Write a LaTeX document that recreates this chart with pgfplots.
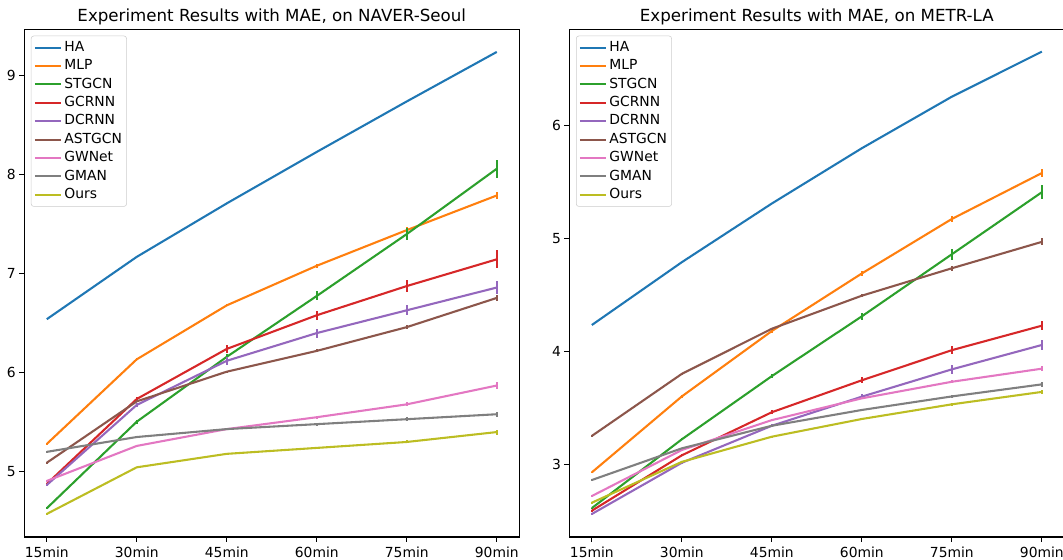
\documentclass[border=0pt]{standalone}
\usepackage{fontspec}
\setmainfont{DejaVu Sans}
\usepackage{pgfplots}
\pgfplotsset{compat=1.18}
\definecolor{c0}{HTML}{1F77B4}
\definecolor{c1}{HTML}{FF7F0E}
\definecolor{c2}{HTML}{2CA02C}
\definecolor{c3}{HTML}{D62728}
\definecolor{c4}{HTML}{9467BD}
\definecolor{c5}{HTML}{8C564B}
\definecolor{c6}{HTML}{E377C2}
\definecolor{c7}{HTML}{7F7F7F}
\definecolor{c8}{HTML}{BCBD22}
\pgfplotsset{
  myax/.style={
    scale only axis, width=371.25pt, height=380.5pt,
    xmin=-0.25, xmax=5.25,
    xtick={0,1,2,3,4,5},
    xticklabels={15min,30min,45min,60min,75min,90min},
    tick align=outside, major tick length=3.65pt,
    xtick pos=bottom, ytick pos=left,
    axis line style={line width=0.83pt},
    every tick/.style={black, line width=0.83pt},
    tick label style={font=\fontsize{10.4}{12}\selectfont},
    xticklabel style={yshift=-0.4pt},
    yticklabel style={xshift=0.8pt},
    /pgf/number format/assume math mode=true,
    title style={font=\fontsize{12.5}{15}\selectfont, at={(0.5,1)}, anchor=base, yshift=0.4pt},
    legend style={at={(0,1)}, anchor=north west, xshift=5pt, yshift=-4.5pt,
      draw=black!20, rounded corners=2pt, fill=white, fill opacity=0.8, text opacity=1,
      font=\fontsize{10.4}{12}\selectfont, inner xsep=2pt, inner ysep=2pt,
      nodes={inner sep=1.5pt, text height=8pt, text depth=2.5pt},
      row sep=0.3pt},
    legend cell align=left,
    legend image code/.code={\draw[##1, line width=1.56pt] (0pt,0pt) -- (19.8pt,0pt);},
    clip=false,
  },
  eb/.style={color=#1, line width=1.56pt, line join=round, no marks,
    error bars/.cd, y dir=both, y explicit, error mark=none,
    error bar style={line width=1.4pt, #1}},
}
\begin{document}
\begin{tikzpicture}
\useasboundingbox (0pt,0pt) rectangle (797.25pt,420pt);
% ---------------- left: NAVER-Seoul
\begin{axis}[myax, at={(18.2pt,17.25pt)}, anchor=south west,
  ymin=4.34, ymax=9.465, ytick={5,6,7,8,9},
  title={Experiment Results with MAE, on NAVER-Seoul}]
\addplot[eb=c0] table[x index=0, y index=1, y error index=2, row sep=\\]{
0 6.54 0\\ 1 7.17 0\\ 2 7.71 0\\ 3 8.23 0\\ 4 8.74 0\\ 5 9.24 0\\};
\addlegendentry{HA}
\addplot[eb=c1] table[x index=0, y index=1, y error index=2, row sep=\\]{
0 5.28 0.01\\ 1 6.135 0.01\\ 2 6.68 0.01\\ 3 7.08 0.02\\ 4 7.44 0.03\\ 5 7.79 0.04\\};
\addlegendentry{MLP}
\addplot[eb=c2] table[x index=0, y index=1, y error index=2, row sep=\\]{
0 4.63 0.01\\ 1 5.505 0.02\\ 2 6.16 0.03\\ 3 6.775 0.045\\ 4 7.40 0.06\\ 5 8.06 0.09\\};
\addlegendentry{STGCN}
\addplot[eb=c3] table[x index=0, y index=1, y error index=2, row sep=\\]{
0 4.876 0.01\\ 1 5.734 0.02\\ 2 6.24 0.04\\ 3 6.58 0.045\\ 4 6.875 0.06\\ 5 7.145 0.09\\};
\addlegendentry{GCRNN}
\addplot[eb=c4] table[x index=0, y index=1, y error index=2, row sep=\\]{
0 4.865 0.01\\ 1 5.674 0.02\\ 2 6.12 0.04\\ 3 6.40 0.045\\ 4 6.63 0.05\\ 5 6.86 0.07\\};
\addlegendentry{DCRNN}
\addplot[eb=c5] table[x index=0, y index=1, y error index=2, row sep=\\]{
0 5.09 0.005\\ 1 5.71 0.01\\ 2 6.01 0.01\\ 3 6.22 0.015\\ 4 6.46 0.02\\ 5 6.755 0.03\\};
\addlegendentry{ASTGCN}
\addplot[eb=c6] table[x index=0, y index=1, y error index=2, row sep=\\]{
0 4.906 0.005\\ 1 5.26 0.005\\ 2 5.43 0.01\\ 3 5.55 0.015\\ 4 5.68 0.02\\ 5 5.87 0.035\\};
\addlegendentry{GWNet}
\addplot[eb=c7] table[x index=0, y index=1, y error index=2, row sep=\\]{
0 5.20 0.005\\ 1 5.35 0.005\\ 2 5.43 0.01\\ 3 5.48 0.015\\ 4 5.53 0.02\\ 5 5.58 0.025\\};
\addlegendentry{GMAN}
\addplot[eb=c8] table[x index=0, y index=1, y error index=2, row sep=\\]{
0 4.573 0.005\\ 1 5.044 0.005\\ 2 5.18 0.01\\ 3 5.24 0.01\\ 4 5.30 0.015\\ 5 5.40 0.025\\};
\addlegendentry{Ours}
\end{axis}
% ---------------- right: METR-LA
\begin{axis}[myax, at={(427pt,17.25pt)}, anchor=south west,
  ymin=2.354, ymax=6.851, ytick={3,4,5,6},
  title={Experiment Results with MAE, on METR-LA}]
\addplot[eb=c0] table[x index=0, y index=1, y error index=2, row sep=\\]{
0 4.233 0\\ 1 4.79 0\\ 2 5.31 0\\ 3 5.80 0\\ 4 6.257 0\\ 5 6.656 0\\};
\addlegendentry{HA}
\addplot[eb=c1] table[x index=0, y index=1, y error index=2, row sep=\\]{
0 2.927 0.005\\ 1 3.60 0.01\\ 2 4.18 0.015\\ 3 4.69 0.02\\ 4 5.173 0.025\\ 5 5.58 0.035\\};
\addlegendentry{MLP}
\addplot[eb=c2] table[x index=0, y index=1, y error index=2, row sep=\\]{
0 2.61 0.005\\ 1 3.22 0.01\\ 2 3.78 0.02\\ 3 4.31 0.03\\ 4 4.86 0.05\\ 5 5.41 0.063\\};
\addlegendentry{STGCN}
\addplot[eb=c3] table[x index=0, y index=1, y error index=2, row sep=\\]{
0 2.587 0.005\\ 1 3.078 0.01\\ 2 3.46 0.02\\ 3 3.743 0.025\\ 4 4.01 0.035\\ 5 4.227 0.04\\};
\addlegendentry{GCRNN}
\addplot[eb=c4] table[x index=0, y index=1, y error index=2, row sep=\\]{
0 2.558 0.005\\ 1 3.012 0.01\\ 2 3.34 0.015\\ 3 3.598 0.025\\ 4 3.84 0.037\\ 5 4.056 0.045\\};
\addlegendentry{DCRNN}
\addplot[eb=c5] table[x index=0, y index=1, y error index=2, row sep=\\]{
0 3.25 0.005\\ 1 3.80 0.005\\ 2 4.20 0.01\\ 3 4.493 0.015\\ 4 4.736 0.02\\ 5 4.97 0.03\\};
\addlegendentry{ASTGCN}
\addplot[eb=c6] table[x index=0, y index=1, y error index=2, row sep=\\]{
0 2.717 0.005\\ 1 3.125 0.005\\ 2 3.39 0.01\\ 3 3.583 0.01\\ 4 3.73 0.015\\ 5 3.846 0.02\\};
\addlegendentry{GWNet}
\addplot[eb=c7] table[x index=0, y index=1, y error index=2, row sep=\\]{
0 2.859 0.005\\ 1 3.14 0.005\\ 2 3.34 0.01\\ 3 3.48 0.01\\ 4 3.60 0.015\\ 5 3.707 0.02\\};
\addlegendentry{GMAN}
\addplot[eb=c8] table[x index=0, y index=1, y error index=2, row sep=\\]{
0 2.658 0.005\\ 1 3.02 0.005\\ 2 3.243 0.01\\ 3 3.40 0.01\\ 4 3.53 0.012\\ 5 3.64 0.015\\};
\addlegendentry{Ours}
\end{axis}
\end{tikzpicture}
\end{document}
